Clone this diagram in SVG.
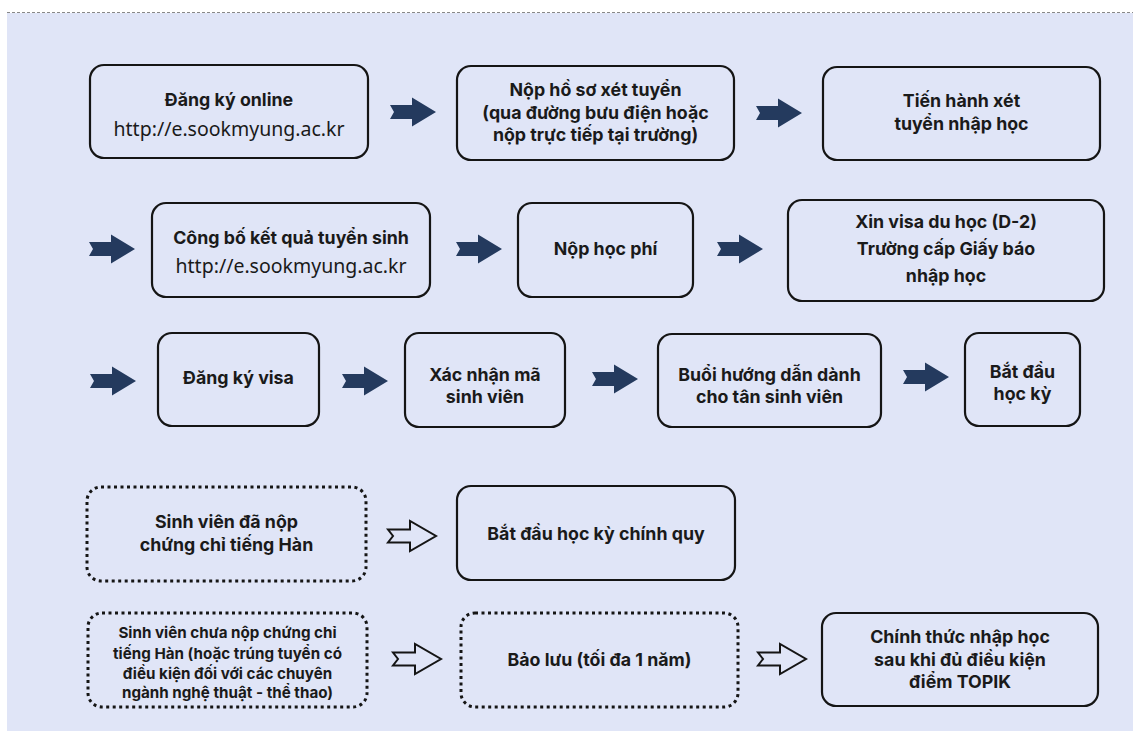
<svg xmlns="http://www.w3.org/2000/svg" width="1133" height="731" viewBox="0 0 1133 731">
<defs>
<style>
.bg{fill:#E0E5F7}
.box{fill:none;stroke:#151515;stroke-width:2.2}
.dot{fill:none;stroke:#151515;stroke-width:3;stroke-dasharray:3 3.5}
.t{font-family:Inter,"Liberation Sans",Arial,sans-serif;font-weight:700;font-size:17.8px;fill:#1a1a1a;text-anchor:middle}
.s{font-size:15.2px}
.u{font-family:"Noto Sans","Liberation Sans",sans-serif;font-weight:400;font-size:19.5px;fill:#1a1a1a;text-anchor:middle}
.fa{fill:#243A5E}
.ha{fill:#E0E5F7;stroke:#151515;stroke-width:2;stroke-linejoin:miter}
</style>
<path id="arr" class="fa" d="M0,-7 L22,-7 L22,-14.5 L46,0 L22,14.5 L22,7 L0,7 L4,0 Z"/>
<path id="harr" class="ha" d="M0,-6.5 L22,-6.5 L22,-15 L48,0 L22,15 L22,6.5 L0,6.5 L5,0 Z"/>
</defs>
<rect x="0" y="0" width="1133" height="731" fill="#ffffff"/>
<rect class="bg" x="7" y="13" width="1126" height="718"/>
<line x1="7" y1="12.5" x2="1133" y2="12.5" stroke="#888" stroke-width="1" stroke-dasharray="3 2"/>

<g id="connectors">
<use href="#arr" x="390" y="112"/>
<use href="#arr" x="756" y="113"/>
<use href="#arr" x="89" y="249"/>
<use href="#arr" x="456" y="249"/>
<use href="#arr" x="717" y="249"/>
<use href="#arr" x="90" y="381"/>
<use href="#arr" x="342" y="381"/>
<use href="#arr" x="592" y="379"/>
<use href="#arr" x="903" y="377"/>
<use href="#harr" x="388" y="536"/>
<use href="#harr" x="393" y="659"/>
<use href="#harr" x="758" y="659"/>
</g>

<g id="n1"><rect class="box" x="90" y="65" width="278" height="93" rx="14"/>
<text class="t" x="229" y="106">Đăng ký online</text>
<text class="u" x="229" y="136">http://e.sookmyung.ac.kr</text></g>

<g id="n2"><rect class="box" x="457" y="66" width="277" height="94" rx="14"/>
<text class="t" x="595.5" y="96">Nộp hồ sơ xét tuyển</text>
<text class="t" x="595.5" y="118.5">(qua đường bưu điện hoặc</text>
<text class="t" x="595.5" y="141">nộp trực tiếp tại trường)</text></g>

<g id="n3"><rect class="box" x="823" y="67" width="277" height="93" rx="14"/>
<text class="t" x="961.5" y="107">Tiến hành xét</text>
<text class="t" x="961.5" y="129.5">tuyển nhập học</text></g>

<g id="n4"><rect class="box" x="152" y="203" width="278" height="94" rx="14"/>
<text class="t" x="291" y="244">Công bố kết quả tuyển sinh</text>
<text class="u" x="291" y="273">http://e.sookmyung.ac.kr</text></g>

<g id="n5"><rect class="box" x="518" y="203" width="175" height="94" rx="14"/>
<text class="t" x="605.5" y="255">Nộp học phí</text></g>

<g id="n6"><rect class="box" x="788" y="200" width="316" height="101" rx="14"/>
<text class="t" x="946" y="228">Xin visa du học (D-2)</text>
<text class="t" x="946" y="255">Trường cấp Giấy báo</text>
<text class="t" x="946" y="282">nhập học</text></g>

<g id="n7"><rect class="box" x="158" y="333" width="161" height="93" rx="14"/>
<text class="t" x="238.5" y="384">Đăng ký visa</text></g>

<g id="n8"><rect class="box" x="405" y="333" width="160" height="94" rx="14"/>
<text class="t" x="485" y="381">Xác nhận mã</text>
<text class="t" x="485" y="403">sinh viên</text></g>

<g id="n9"><rect class="box" x="658" y="334" width="223" height="93" rx="14"/>
<text class="t" x="769.5" y="381">Buổi hướng dẫn dành</text>
<text class="t" x="769.5" y="403">cho tân sinh viên</text></g>

<g id="n10"><rect class="box" x="965" y="333" width="115" height="93" rx="14"/>
<text class="t" x="1022.5" y="378">Bắt đầu</text>
<text class="t" x="1022.5" y="400">học kỳ</text></g>

<g id="n11"><rect class="dot" x="87" y="487" width="279" height="94" rx="14"/>
<text class="t" x="226.5" y="528">Sinh viên đã nộp</text>
<text class="t" x="226.5" y="551">chứng chỉ tiếng Hàn</text></g>

<g id="n12"><rect class="box" x="457" y="486" width="278" height="94" rx="14"/>
<text class="t" x="596" y="540">Bắt đầu học kỳ chính quy</text></g>

<g id="n13"><rect class="dot" x="88" y="613" width="279" height="94" rx="14"/>
<text class="t s" x="227.5" y="638">Sinh viên chưa nộp chứng chỉ</text>
<text class="t s" x="227.5" y="658.5">tiếng Hàn (hoặc trúng tuyển có</text>
<text class="t s" x="227.5" y="678.5">điều kiện đối với các chuyên</text>
<text class="t s" x="227.5" y="697.5">ngành nghệ thuật - thể thao)</text></g>

<g id="n14"><rect class="dot" x="461" y="613" width="277" height="94" rx="14"/>
<text class="t" x="599.5" y="666">Bảo lưu (tối đa 1 năm)</text></g>

<g id="n15"><rect class="box" x="822" y="613" width="276" height="93" rx="14"/>
<text class="t" x="960" y="643">Chính thức nhập học</text>
<text class="t" x="960" y="665.5">sau khi đủ điều kiện</text>
<text class="t" x="960" y="688">điểm TOPIK</text></g>
</svg>
